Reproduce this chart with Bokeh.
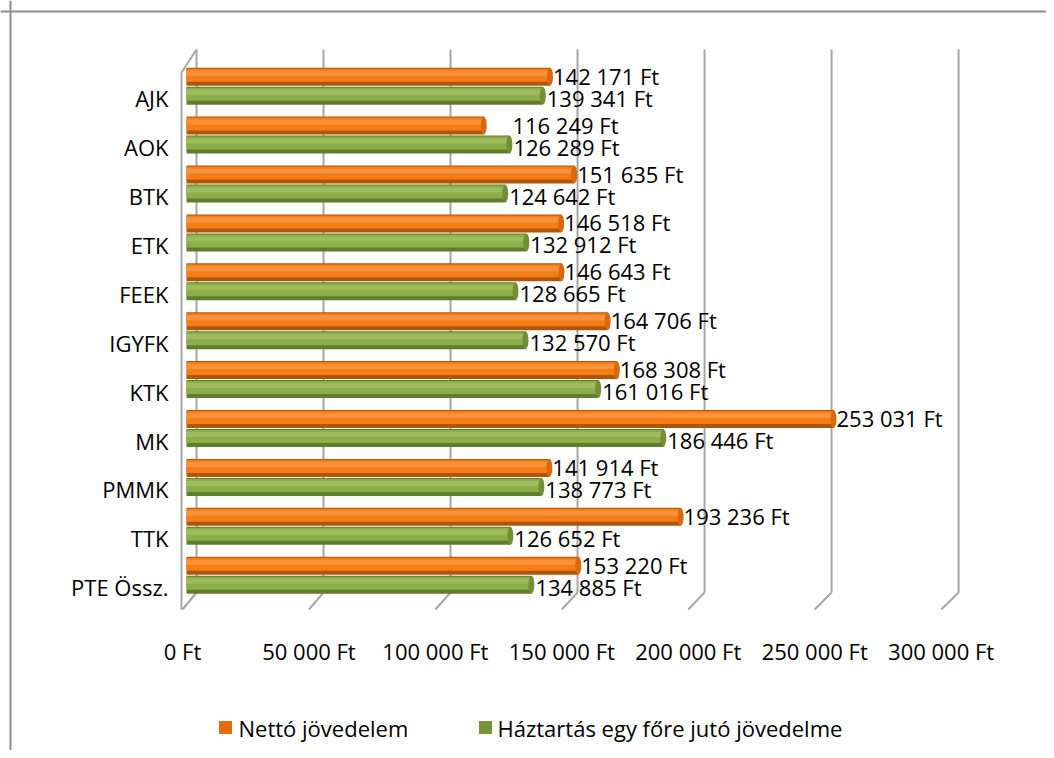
from bokeh.plotting import figure
from bokeh.models import Range1d, Span
from bokeh.embed import file_html
from bokeh.resources import INLINE
from bokeh.core.properties import value

# ---------------- data ----------------
categories = ["AJK", "AOK", "BTK", "ETK", "FEEK", "IGYFK", "KTK", "MK", "PMMK", "TTK", "PTE Össz."]
netto = [142171, 116249, 151635, 146518, 146643, 164706, 168308, 253031, 141914, 193236, 153220]
haztartas = [139341, 126289, 124642, 132912, 128665, 132570, 161016, 186446, 138773, 126652, 134885]
ticks = [0, 50000, 100000, 150000, 200000, 250000, 300000]
series_names = ["Nettó jövedelem", "Háztartás egy főre jutó jövedelme"]
series_colors = ["#E46C0A", "#77933C"]


def fmt(v):
    return f"{v:,}".replace(",", " ") + " Ft"


tick_labels = [fmt(t) for t in ticks]

# ---------------- layout (style) ----------------
W, H = 1046, 750
UX = 391.1      # value units per pixel
X0 = 186        # canvas px of value 0
PY = 48.9       # pixels per category
Y0 = 85.7       # canvas px of first category centre
FONT = value("Open Sans")
FS = "22px"
BACK_SCALE = 0.9935   # perspective factor of back wall
FRONT_SCALE = 0.989   # perspective factor of floor front edge

x_start, x_end = -X0 * UX, (W - X0) * UX
y_top, y_bot = -Y0 / PY, (H - Y0) / PY


def sx(px):
    return px * UX


def cx(px):
    return x_start + px * UX


def sy(py):
    return py / PY


def cy(c):
    return y_top + c / PY


p = figure(width=W, height=H, x_range=Range1d(x_start, x_end), y_range=Range1d(y_bot, y_top),
           output_backend="svg", toolbar_location=None, min_border=0,
           x_axis_location=None, y_axis_location=None)
p.grid.visible = False
p.outline_line_color = None
p.background_fill_color = "white"
p.border_fill_color = "white"

# chart border
p.add_layout(Span(location=cx(10), dimension="height", line_color="#8C8C8C", line_width=2))
p.add_layout(Span(location=cy(11), dimension="width", line_color="#8C8C8C", line_width=2))

# 3D gridlines (back wall + floor slants)
n = len(ticks)
back_x = [t * BACK_SCALE + sx(10) for t in ticks]
front_x = [t * FRONT_SCALE - sx(4) for t in ticks]
yt, ybf, yff = cy(49), cy(592), cy(609)
gcol = "#A6A6A6"
p.segment(x0=back_x, y0=[yt] * n, x1=back_x, y1=[ybf] * n, line_color=gcol, line_width=2)
p.segment(x0=back_x, y0=[ybf] * n, x1=front_x, y1=[yff] * n, line_color=gcol, line_width=2)
p.line(x=[back_x[0], front_x[0] - sx(1), front_x[0] - sx(1)], y=[yt, cy(72), yff], line_color=gcol, line_width=2)

# bars
idx = list(range(len(categories)))
bh = sy(18)
yo = [i - sy(9.5) for i in idx]
yg = [i + sy(9.5) for i in idx]


def bar3d(ys, vals, dark, main, light, cap):
    p.hbar(y=ys, left=0, right=vals, height=bh, fill_color=dark, line_color=None)
    p.hbar(y=[y - sy(1.5) for y in ys], left=0, right=vals, height=bh - sy(5), fill_color=main, line_color=None)
    p.hbar(y=[y - sy(3.5) for y in ys], left=0, right=vals, height=sy(5), fill_color=light, fill_alpha=0.6, line_color=None)
    p.ellipse(x=vals, y=ys, width=sx(6), height=bh, fill_color=cap, line_color=None)


bar3d(yo, netto, "#B0560C", "#F47D18", "#FBA050", "#D9680F")
bar3d(yg, haztartas, "#5F7D2A", "#8CAE48", "#A8C66A", "#728F36")

# value labels
lab_o_x = [max(a, b) + sx(3) for a, b in zip(netto, haztartas)]
lab_g_x = [b + sx(4) for b in haztartas]
p.text(x=lab_o_x, y=[y - sy(1) for y in yo], text=[fmt(v) for v in netto],
       text_font=FONT, text_font_size=FS, text_align="left", text_baseline="middle", text_color="black")
p.text(x=lab_g_x, y=[y + sy(2) for y in yg], text=[fmt(v) for v in haztartas],
       text_font=FONT, text_font_size=FS, text_align="left", text_baseline="middle", text_color="black")

# category labels
p.text(x=[cx(168)] * len(categories), y=[i + sy(12) for i in idx], text=categories,
       text_font=FONT, text_font_size=FS, text_align="right", text_baseline="middle", text_color="black")

# tick labels
p.text(x=front_x, y=[cy(650)] * n, text=tick_labels,
       text_font=FONT, text_font_size=FS, text_align="center", text_baseline="middle", text_color="black")

# legend (drawn manually)
leg_sq_x = [cx(225), cx(485)]
leg_tx_x = [cx(238), cx(497)]
leg_y = [cy(727)] * 2
p.scatter(x=leg_sq_x, y=leg_y, marker="square", size=13, fill_color=series_colors, line_color=None)
p.text(x=leg_tx_x, y=leg_y, text=series_names, text_font=FONT, text_font_size=FS,
       text_align="left", text_baseline="middle", text_color="black")

open("out.html", "w").write(file_html(p, INLINE))
